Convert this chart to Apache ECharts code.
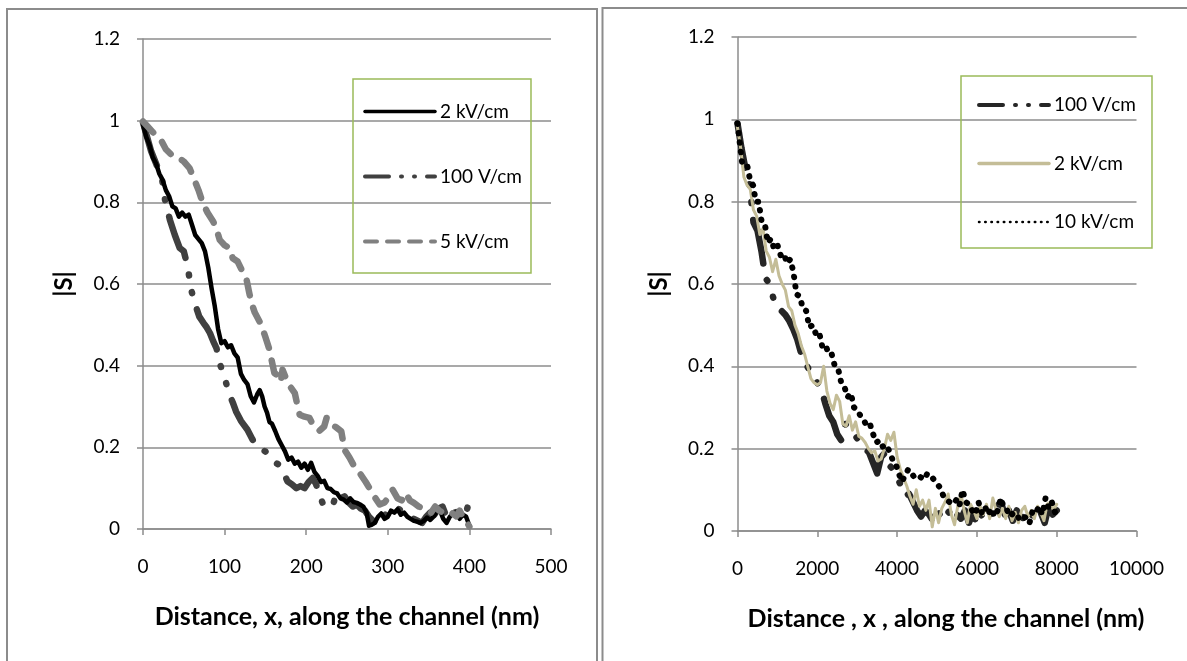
<!DOCTYPE html>
<html>
<head>
<meta charset="utf-8">
<script src="https://cdn.jsdelivr.net/npm/echarts@6/dist/echarts.min.js"></script>
<style>
  html, body { margin: 0; padding: 0; background: #fff; }
  #left { position: absolute; left: 0; top: 0; width: 600px; height: 661px; }
  #right { position: absolute; left: 600px; top: 0; width: 587px; height: 661px; }
</style>
</head>
<body>
<div id="left"></div>
<div id="right"></div>
<script>
// ---- left panel data (nm) ----
const l2kvX = [0,4,8,12,16,20,24,28,32,36,40,44,48,52,56,60,64,68,72,76,80,84,88,92,96,100,104,108,112,116,120,124,128,132,136,140,143,146,149,152,155,158,162,166,170,174,178,182,186,190,194,198,202,206,210,214,218,222,226,230,234,238,242,246,250,254,258,262,266,270,274,277,280,284,288,292,296,300,304,308,312,316,320,324,328,332,336,340,344,348,352,356,360,364,368,372,376,380,384,388,392,396,400];
const l2kvY = [0.99,0.96,0.94,0.91,0.895,0.87,0.855,0.83,0.815,0.79,0.785,0.765,0.775,0.765,0.77,0.745,0.72,0.71,0.70,0.68,0.64,0.59,0.545,0.49,0.455,0.46,0.445,0.45,0.43,0.42,0.38,0.365,0.355,0.325,0.31,0.33,0.34,0.325,0.30,0.285,0.262,0.258,0.24,0.22,0.205,0.19,0.17,0.175,0.16,0.165,0.15,0.16,0.145,0.162,0.14,0.13,0.115,0.118,0.10,0.098,0.09,0.087,0.075,0.072,0.065,0.075,0.066,0.064,0.06,0.055,0.04,0.008,0.01,0.015,0.03,0.038,0.025,0.03,0.045,0.04,0.048,0.035,0.04,0.03,0.025,0.02,0.018,0.015,0.02,0.028,0.022,0.03,0.042,0.045,0.025,0.015,0.03,0.038,0.04,0.025,0.035,0.03,0.008];

const l100vX = [0,5,10,15,20,23,27,33,39,45,50,55,59,64,69,74,78,82,86,90,95,100,106,110,114,120,128,134,139,145,150,155,160,167,172,177,182,188,193,198,203,208,212,216,220,224,228,233,237,242,247,252,257,262,267,272,277,282,287,292,297,302,307,312,317,322,327,332,337,342,347,352,357,362,367,372,377,382,387,392,396,398];
const l100vY = [0.995,0.96,0.925,0.90,0.875,0.862,0.806,0.757,0.72,0.688,0.68,0.64,0.586,0.55,0.52,0.505,0.494,0.48,0.46,0.443,0.40,0.37,0.329,0.31,0.288,0.265,0.243,0.22,0.202,0.195,0.19,0.175,0.165,0.157,0.14,0.117,0.11,0.10,0.105,0.10,0.115,0.125,0.11,0.085,0.064,0.058,0.051,0.06,0.088,0.075,0.08,0.065,0.055,0.06,0.05,0.045,0.03,0.02,0.01,0.02,0.035,0.03,0.04,0.05,0.045,0.035,0.03,0.025,0.02,0.015,0.03,0.04,0.035,0.05,0.055,0.03,0.025,0.04,0.045,0.035,0.04,0.055];

const l5kvX = [0,6,12,18,23,28,35,42,50,57,63,68,73,79,86,90,94,100,106,110,116,122,127,130,133,137,141,145,150,155,158,161,166,169,171,175,180,186,189,192,198,204,207,210,216,222,225,230,236,243,247,253,259,263,267,273,280,285,290,296,302,306,312,317,322,327,332,338,343,347,353,358,363,368,373,378,384,388,392,396,400];
const l5kvY = [0.998,0.985,0.972,0.96,0.949,0.93,0.916,0.912,0.90,0.884,0.855,0.83,0.80,0.775,0.753,0.735,0.708,0.695,0.688,0.663,0.655,0.63,0.61,0.58,0.553,0.53,0.515,0.50,0.47,0.439,0.41,0.382,0.375,0.361,0.39,0.37,0.35,0.333,0.305,0.28,0.275,0.272,0.26,0.251,0.24,0.251,0.272,0.255,0.25,0.239,0.194,0.175,0.153,0.145,0.133,0.115,0.092,0.075,0.06,0.065,0.08,0.096,0.075,0.07,0.088,0.07,0.064,0.055,0.05,0.047,0.04,0.055,0.045,0.04,0.035,0.04,0.031,0.045,0.03,0.02,0.006];

// ---- right panel data (nm) ----
const r100vX = [0,100,200,300,400,500,600,700,800,900,1000,1100,1200,1300,1400,1500,1600,1700,1800,1900,2000,2100,2200,2300,2400,2500,2600,2700,2800,2900,3000,3100,3200,3300,3400,3500,3600,3700,3800,3900,4000,4100,4200,4300,4400,4500,4600,4700,4800,4900,5000,5100,5200,5300,5400,5500,5600,5700,5800,5900,6000,6100,6200,6300,6400,6500,6600,6700,6800,6900,7000,7100,7200,7300,7400,7500,7600,7700,7800,7900,8000];
const r100vY = [0.99,0.93,0.88,0.845,0.75,0.73,0.68,0.615,0.60,0.565,0.54,0.535,0.525,0.51,0.49,0.465,0.43,0.41,0.39,0.375,0.36,0.345,0.31,0.28,0.265,0.235,0.22,0.26,0.25,0.24,0.225,0.215,0.20,0.19,0.165,0.14,0.18,0.19,0.16,0.15,0.13,0.11,0.085,0.09,0.07,0.05,0.035,0.05,0.04,0.025,0.05,0.035,0.055,0.045,0.06,0.04,0.03,0.05,0.02,0.045,0.015,0.04,0.03,0.05,0.035,0.06,0.07,0.04,0.05,0.025,0.05,0.02,0.045,0.03,0.04,0.025,0.045,0.02,0.06,0.04,0.05];

const r2kvX = [0,80,160,240,320,400,480,560,640,720,800,880,960,1040,1120,1200,1280,1360,1440,1520,1600,1680,1760,1840,1920,2000,2080,2160,2240,2320,2400,2480,2560,2640,2720,2800,2880,2960,3040,3120,3200,3280,3360,3440,3520,3600,3680,3760,3840,3920,4000,4080,4160,4240,4320,4400,4480,4560,4640,4720,4800,4880,4960,5040,5120,5200,5280,5360,5440,5520,5600,5680,5760,5840,5920,6000,6080,6160,6240,6320,6400,6480,6560,6640,6720,6800,6880,6960,7040,7120,7200,7280,7360,7440,7520,7600,7680,7760,7840,7920,8000];
const r2kvY = [0.98,0.93,0.86,0.84,0.83,0.78,0.765,0.72,0.735,0.68,0.665,0.63,0.66,0.62,0.60,0.585,0.545,0.535,0.50,0.48,0.45,0.43,0.40,0.37,0.36,0.355,0.36,0.40,0.34,0.31,0.295,0.33,0.315,0.26,0.255,0.28,0.245,0.265,0.23,0.225,0.215,0.20,0.19,0.195,0.17,0.175,0.20,0.235,0.22,0.24,0.18,0.15,0.13,0.11,0.085,0.065,0.10,0.06,0.075,0.05,0.075,0.01,0.055,0.02,0.055,0.07,0.09,0.04,0.015,0.06,0.09,0.05,0.02,0.065,0.05,0.03,0.06,0.04,0.065,0.03,0.08,0.05,0.035,0.055,0.03,0.06,0.025,0.045,0.02,0.05,0.06,0.035,0.05,0.03,0.06,0.045,0.025,0.065,0.07,0.05,0.065];

const r10kvX = [0,60,120,180,250,320,390,460,530,600,680,760,840,920,1000,1080,1160,1240,1320,1400,1480,1560,1640,1720,1800,1880,1960,2040,2120,2200,2280,2360,2440,2520,2600,2680,2760,2840,2920,3000,3080,3160,3240,3320,3400,3480,3560,3640,3720,3800,3880,3960,4040,4120,4200,4280,4360,4440,4520,4600,4680,4760,4840,4920,5000,5080,5160,5240,5320,5400,5480,5560,5640,5720,5800,5880,5960,6040,6120,6200,6280,6360,6440,6520,6600,6680,6760,6840,6920,7000,7080,7160,7240,7320,7400,7480,7560,7640,7720,7800,7880,7960,8000];
const r10kvY = [0.99,0.94,0.89,0.885,0.885,0.85,0.84,0.80,0.80,0.755,0.75,0.70,0.71,0.685,0.695,0.67,0.675,0.65,0.66,0.63,0.575,0.57,0.54,0.535,0.495,0.50,0.48,0.485,0.45,0.455,0.43,0.43,0.40,0.395,0.36,0.35,0.325,0.335,0.30,0.295,0.28,0.27,0.255,0.26,0.235,0.215,0.22,0.205,0.21,0.195,0.175,0.165,0.14,0.12,0.135,0.15,0.14,0.13,0.135,0.13,0.125,0.14,0.135,0.125,0.115,0.105,0.085,0.075,0.07,0.065,0.075,0.06,0.10,0.07,0.065,0.05,0.04,0.07,0.045,0.06,0.04,0.055,0.035,0.05,0.08,0.055,0.05,0.035,0.045,0.04,0.025,0.03,0.035,0.02,0.05,0.045,0.06,0.04,0.08,0.055,0.07,0.045,0.035];

const yTicks = { min: 0, max: 1.2, interval: 0.2 };
const FONT = 'Lato';
const GRID_GREY = '#8c8c8c';
const LABEL_SIZE = 19;

const zip = (xs, ys) => xs.map((x, i) => [x, ys[i]]);

const dashDotDot = [45, 17, 1, 17, 1, 17];
const legendDashDotDot = [24, 12, 1, 12, 1, 12];

const makeAxes = (xMax, xInterval, yNameGap, xName, xNamePadding) => ({
  xAxis: {
    type: 'value',
    min: 0,
    max: xMax,
    interval: xInterval,
    name: xName,
    nameLocation: 'middle',
    nameGap: 75,
    nameTextStyle: { fontFamily: FONT, fontSize: 25, fontWeight: 'bold', color: '#000', padding: xNamePadding },
    axisLine: { lineStyle: { color: GRID_GREY, width: 1.5 } },
    axisTick: { show: true, length: 6, lineStyle: { color: GRID_GREY, width: 1.5 } },
    axisLabel: { fontFamily: FONT, fontSize: LABEL_SIZE, color: '#000', margin: 28, formatter: v => String(v) },
    splitLine: { show: false },
  },
  yAxis: {
    type: 'value',
    min: yTicks.min,
    max: yTicks.max,
    interval: yTicks.interval,
    name: '|S|',
    nameLocation: 'middle',
    nameGap: yNameGap,
    nameTextStyle: { fontFamily: FONT, fontSize: 24, fontWeight: 'bold', color: '#000' },
    axisLine: { show: true, lineStyle: { color: GRID_GREY, width: 1.5 } },
    axisTick: { show: true, length: 6, lineStyle: { color: GRID_GREY, width: 1.5 } },
    axisLabel: { fontFamily: FONT, fontSize: LABEL_SIZE, color: '#000', margin: 23 },
    splitLine: { lineStyle: { color: GRID_GREY, width: 1.5 } },
  },
});

const lineSeries = (name, data, style, z) => ({
  name,
  type: 'line',
  data,
  symbol: 'none',
  z,
  animation: false,
  lineStyle: Object.assign({ cap: 'round', join: 'round' }, style),
});

const legendBase = {
  orient: 'vertical',
  itemWidth: 70,
  itemHeight: 19,
  selectedMode: false,
  borderColor: '#9bbb59',
  borderWidth: 1.5,
  itemStyle: { opacity: 0, color: 'rgba(0,0,0,0)', borderWidth: 0 },
  textStyle: { fontFamily: FONT, fontSize: LABEL_SIZE, lineHeight: 19, color: '#000' },
};

const frame = (x, y) => ({
  type: 'rect',
  shape: { x, y, width: 700, height: 700 },
  style: { fill: 'none', stroke: '#8c8c8c', lineWidth: 2 },
  silent: true,
});

// ---- left chart ----
const leftChart = echarts.init(document.getElementById('left'));
leftChart.setOption(Object.assign({
  animation: false,
  grid: { left: 143, top: 39, width: 408, height: 490 },
  graphic: [Object.assign(frame(7, 9), { shape: { x: 7, y: 9, width: 590, height: 700 } })],
  legend: Object.assign({}, legendBase, {
    left: 353,
    top: 79,
    padding: [23, 9, 22, 10],
    itemGap: 46,
    data: [
      { name: '2 kV/cm', lineStyle: { width: 3.5 } },
      { name: '100 V/cm', lineStyle: { width: 4, type: legendDashDotDot } },
      { name: '5 kV/cm', lineStyle: { width: 4, type: [12, 10] } },
    ],
  }),
  series: [
    lineSeries('2 kV/cm', zip(l2kvX, l2kvY), { color: '#000', width: 4.5 }, 3),
    lineSeries('100 V/cm', zip(l100vX, l100vY), { color: '#404040', width: 6.5, type: dashDotDot }, 2),
    lineSeries('5 kV/cm', zip(l5kvX, l5kvY), { color: '#808080', width: 6.5, type: [15, 13] }, 4),
  ],
}, makeAxes(500, 100, 67, 'Distance, x, along the channel (nm)', 0)));

// ---- right chart ----
const rightChart = echarts.init(document.getElementById('right'));
rightChart.setOption(Object.assign({
  animation: false,
  grid: { left: 137.5, top: 37, width: 399, height: 494 },
  graphic: [frame(2.5, 8)],
  legend: Object.assign({}, legendBase, {
    left: 361,
    top: 76,
    padding: [19.5, 16, 16.5, 16],
    itemGap: 39.5,
    data: [
      { name: '100 V/cm', lineStyle: { width: 4, type: legendDashDotDot } },
      { name: '2 kV/cm', lineStyle: { width: 3.5 } },
      { name: '10 kV/cm', lineStyle: { width: 2.5, type: [0.5, 5.7] } },
    ],
  }),
  series: [
    lineSeries('100 V/cm', zip(r100vX, r100vY), { color: '#262626', width: 6.5, type: dashDotDot }, 2),
    lineSeries('2 kV/cm', zip(r2kvX, r2kvY), { color: '#c4bd97', width: 3 }, 3),
    lineSeries('10 kV/cm', zip(r10kvX, r10kvY), { color: '#000', width: 6, type: [0.5, 9] }, 4),
  ],
}, makeAxes(10000, 2000, 66, 'Distance , x , along the channel (nm)', [0, 0, 0, 18])));
</script>
</body>
</html>
